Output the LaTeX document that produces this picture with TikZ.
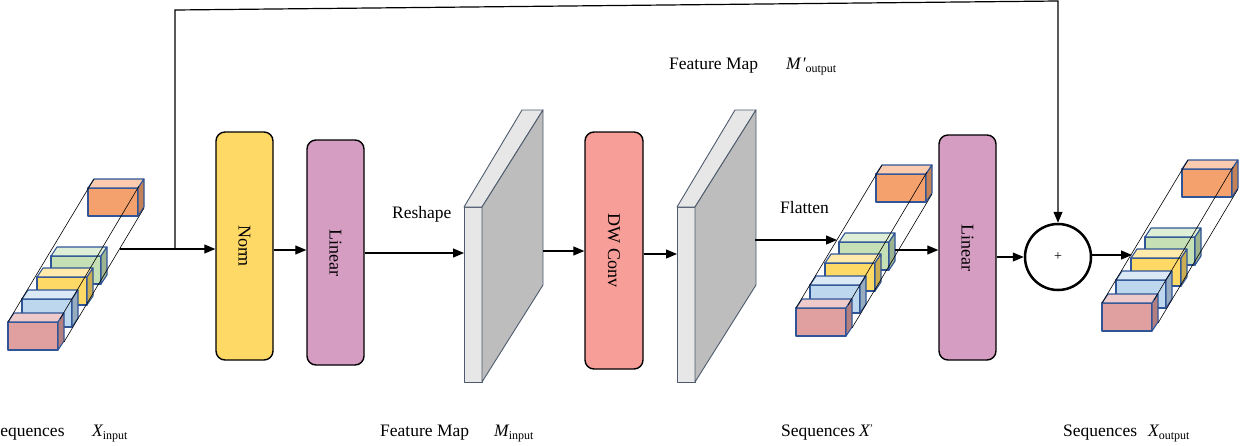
\documentclass[tikz,border=0pt]{standalone}
\usepackage{fontspec}
\setmainfont{Liberation Serif}
\usepackage{graphicx}
\usetikzlibrary{arrows.meta}
\definecolor{cnorm}{HTML}{FFD966}
\definecolor{clin}{HTML}{D69DC3}
\definecolor{cdw}{HTML}{F89E99}
\definecolor{cslabf}{HTML}{E7E7E7}
\definecolor{cslabs}{HTML}{BDBDBD}
\definecolor{cslabl}{HTML}{4E5B6E}
\definecolor{cred}{HTML}{E0A09F}
\definecolor{cblue}{HTML}{BDD7EE}
\definecolor{cyel}{HTML}{FFD966}
\definecolor{cgreen}{HTML}{C5E0B4}
\definecolor{corange}{HTML}{F5A16D}
\definecolor{cubeln}{HTML}{2F5597}
\newcommand\subtxt[1]{\raisebox{-3.5pt}{\fontsize{12}{12}\selectfont\upshape #1}}
\newcommand\seqcube[3]{%
  \begin{scope}[shift={(#1,#2)}]
    \filldraw[cubeline, fill=#3] (0,0) rectangle (50,28);
    \filldraw[cubeline, fill=#3!55!white] (0,0)--(6,-9)--(56,-9)--(50,0)--cycle;
    \filldraw[cubeline, fill=#3!80!black] (50,0)--(56,-9)--(56,19)--(50,28)--cycle;
  \end{scope}}
\newcommand\seqstack[2]{%
  \begin{scope}[shift={(#1,#2)}]
    \seqcube{80}{-134}{corange}
    \seqcube{43}{-66}{cgreen}
    \seqcube{29}{-45}{cyel}
    \seqcube{14}{-23}{cblue}
    \seqcube{0}{0}{cred}
    \draw[envline] (0,0) -- (86,-143);
    \draw[envline] (52,-3) -- (131,-136);
    \draw[envline] (56,20) -- (136,-114);
  \end{scope}}
\newcommand\fmslab[1]{%
  \begin{scope}[shift={(#1,0)}]
    \filldraw[slabline, fill=cslabf] (0,207) rectangle (18,382);
    \filldraw[slabline, fill=cslabf] (0,207)--(58,110)--(79,110)--(18,207)--cycle;
    \filldraw[slabline, fill=cslabs] (18,207)--(79,110)--(79,285)--(18,382)--cycle;
  \end{scope}}
\begin{document}
\begin{tikzpicture}[x=1pt,y=-1pt,
  cubeline/.style={draw=cubeln, line width=1.1pt, line join=round},
  envline/.style={draw=black, line width=0.6pt},
  slabline/.style={draw=cslabl, line width=0.9pt, line join=round},
  arr/.style={-{Triangle[length=11pt,width=9pt]}, line width=1.2pt},
  blk/.style={draw=black, line width=1.4pt, rounded corners=9pt, minimum width=57pt,
    inner sep=0pt, font=\fontsize{18}{20}\selectfont},
  lbl/.style={font=\fontsize{17.5}{20}\selectfont, inner sep=0pt, anchor=base west}]
\useasboundingbox (0,0) rectangle (1251,445);

% sequence stacks
\seqstack{8}{322}
\seqstack{796}{308}
\seqstack{1102}{303}
\coordinate (in1) at (119.5,249);
\coordinate (skip) at (175,249);
\coordinate (s2in) at (837,240);
\coordinate (s2out) at (895,250);
\coordinate (s3in) at (1132,255);

% feature map slabs
\fmslab{464}
\fmslab{677}
\coordinate (fm1in) at (464,253);
\coordinate (fm1out) at (543,251);
\coordinate (fm2in) at (677,254);
\coordinate (fm2out) at (755,240);

% blocks
\node[blk, fill=cnorm, minimum height=228pt] (norm) at (244.5,246) {\rotatebox{-90}{Norm}};
\node[blk, fill=clin, minimum height=225pt] (lin1) at (335.5,252.5) {\rotatebox{-90}{Linear}};
\node[blk, fill=cdw, minimum width=58pt, minimum height=237pt] (dw) at (614,250.5) {\rotatebox{-90}{DW Conv}};
\node[blk, fill=clin, minimum height=225pt] (lin2) at (967.5,247.5) {\rotatebox{-90}{Linear}};
\node[circle, draw=black, line width=2.5pt, minimum size=66pt, inner sep=0pt] (sum) at (1058,257) {\fontsize{14}{14}\selectfont +};

% connectors
\draw[arr] (in1) -- (in1 -| norm.west);
\draw[arr] (norm.east |- 0,250) -- (lin1.west |- 0,250);
\draw[arr] (lin1.east |- fm1in) -- (fm1in);
\draw[arr] (fm1out) -- (fm1out -| dw.west);
\draw[arr] (dw.east |- fm2in) -- (fm2in);
\draw[arr] (fm2out) -- (s2in);
\draw[arr] (s2out) -- (s2out -| lin2.west);
\draw[arr] (lin2.east |- sum.west) -- (sum.west);
\draw[arr] (sum.east |- s3in) -- (s3in);
\draw[arr] (skip) -- (175,10) -- (1058,1) -- (sum.north);

% labels
\node[lbl] (l1) at (-9.5,436) {Sequences};
\node[lbl] (l1m) at (92,436) {\itshape X\subtxt{input}};
\node[lbl] (l2) at (380,436) {Feature Map};
\node[lbl] (l2m) at (494,436) {\itshape M\subtxt{input}};
\node[lbl] (l3) at (781,436) {Sequences};
\node[lbl] (l3m) at (859,436) {\itshape X\raisebox{5pt}{\fontsize{10}{10}\selectfont\upshape '}};
\node[lbl] (l4) at (1063,436) {Sequences};
\node[lbl] (l4m) at (1148,436) {\itshape X\subtxt{output}};
\node[lbl] (l5) at (669,69) {Feature Map};
\node[lbl] (l5m) at (786,69) {\itshape M\kern1pt′\subtxt{output}};
\node[lbl] (l6) at (392,218) {Reshape};
\node[lbl] (l7) at (780,213) {Flatten};
\end{tikzpicture}
\end{document}
